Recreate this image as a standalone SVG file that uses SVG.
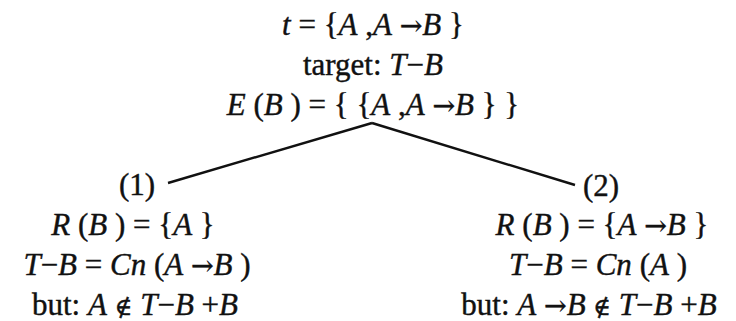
<svg xmlns="http://www.w3.org/2000/svg" width="736" height="321" viewBox="0 0 736 321">
<style>
text{font-family:"Liberation Serif","Times New Roman",serif;font-size:31px;fill:#111;stroke:#111;stroke-width:0.4;text-anchor:middle}
.i{font-style:italic}
.a{font-family:"DejaVu Serif",serif;font-size:27px}
.n{font-family:"DejaVu Serif",serif;font-size:24px}
.c{stroke:#111;stroke-width:2.4;fill:none}
</style>
<rect width="736" height="321" fill="#fff"/>
<g id="root">
<text x="373" y="35"><tspan class="i">t</tspan> = {<tspan class="i">A</tspan> ,<tspan class="i">A</tspan> <tspan class="a">→</tspan><tspan class="i">B</tspan> }</text>
<text x="373" y="75">target: <tspan class="i">T</tspan>−<tspan class="i">B</tspan></text>
<text x="373" y="115"><tspan class="i">E</tspan> (<tspan class="i">B</tspan> ) = { {<tspan class="i">A</tspan> ,<tspan class="i">A</tspan> <tspan class="a">→</tspan><tspan class="i">B</tspan> } }</text>
</g>
<g id="connectors">
<line class="c" x1="372" y1="123" x2="168" y2="183"/>
<line class="c" x1="372" y1="123" x2="575" y2="185"/>
</g>
<g id="node1">
<text x="137" y="195">(1)</text>
<text x="133" y="235"><tspan class="i">R</tspan> (<tspan class="i">B</tspan> ) = {<tspan class="i">A</tspan> }</text>
<text x="137" y="275"><tspan class="i">T</tspan>−<tspan class="i">B</tspan> = <tspan class="i">Cn</tspan> (<tspan class="i">A</tspan> <tspan class="a">→</tspan><tspan class="i">B</tspan> )</text>
<text x="135" y="315">but: <tspan class="i">A</tspan> <tspan class="n">∉</tspan> <tspan class="i">T</tspan>−<tspan class="i">B</tspan> +<tspan class="i">B</tspan></text>
</g>
<g id="node2">
<text x="601" y="196">(2)</text>
<text x="602" y="235"><tspan class="i">R</tspan> (<tspan class="i">B</tspan> ) = {<tspan class="i">A</tspan> <tspan class="a">→</tspan><tspan class="i">B</tspan> }</text>
<text x="598" y="275"><tspan class="i">T</tspan>−<tspan class="i">B</tspan> = <tspan class="i">Cn</tspan> (<tspan class="i">A</tspan> )</text>
<text x="589" y="315">but: <tspan class="i">A</tspan> <tspan class="a">→</tspan><tspan class="i">B</tspan> <tspan class="n">∉</tspan> <tspan class="i">T</tspan>−<tspan class="i">B</tspan> +<tspan class="i">B</tspan></text>
</g>
</svg>
